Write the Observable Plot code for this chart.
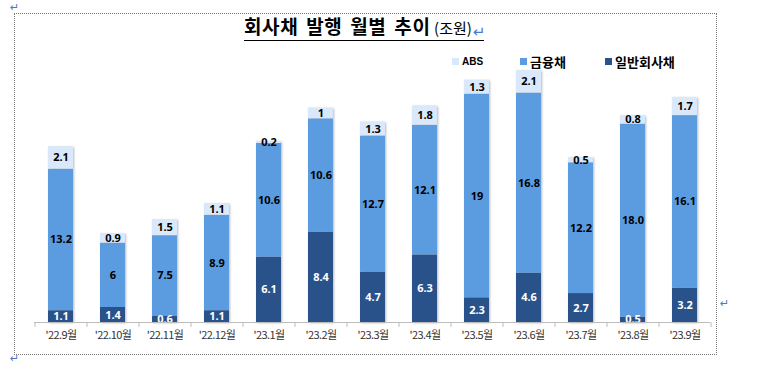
<!DOCTYPE html>
<html>
<head>
<meta charset="utf-8">
<script src="https://cdn.jsdelivr.net/npm/d3@7"></script>
<script src="https://cdn.jsdelivr.net/npm/@observablehq/plot@0.6"></script>
<style>
  body { margin: 0; background: #fff; }
  #wrap { position: relative; width: 760px; height: 367px; overflow: hidden; font-family: "Noto Sans CJK KR", "Noto Sans", sans-serif; }
  #chart { position: absolute; left: 0; top: 0; }
  #border { position: absolute; left: 14px; top: 13px; width: 703px; height: 342px; border: 1px dotted #777; box-sizing: border-box; }
  .ret { position: absolute; color: #4a78c2; font-size: 11px; font-family: "DejaVu Sans", sans-serif; line-height: 11px; }
  #title { position: absolute; left: 244px; top: 14px; white-space: nowrap; border-bottom: 1.6px solid #000; line-height: 24px; color: #000; }
  #title b { font-size: 19px; font-weight: 700; letter-spacing: 0.6px; word-spacing: 3px; }
  #title span { font-size: 15px; font-weight: 400; }
  .lg { position: absolute; top: 52px; height: 18px; display: flex; align-items: center; white-space: nowrap; font-weight: 700; color: #000; }
  .lg i { display: inline-block; width: 7px; height: 7px; margin-right: 3px; }
  g[aria-label^="x-axis"] text { letter-spacing: -0.6px; }
  g[aria-label="bar"] { filter: drop-shadow(1.5px 1px 1px rgba(0,0,0,0.28)); }
</style>
</head>
<body>
<div id="wrap">
  <div id="chart"></div>
  <div id="border"></div>
  <div class="ret" style="left:10px; top:2px;">↵</div>
  <div class="ret" style="left:720px; top:298px;">↵</div>
  <div class="ret" style="left:10px; top:353px;">↵</div>
  <div id="title"><b>회사채 발행 월별 추이</b> <span>(조원)</span><span class="ret" style="position:relative; top:3px; left:1px;">↵</span></div>
  <div id="legend"></div>
</div>
<script>
const months = ["'22.9월","'22.10월","'22.11월","'22.12월","'23.1월","'23.2월","'23.3월","'23.4월","'23.5월","'23.6월","'23.7월","'23.8월","'23.9월"];
const seriesNames = ["일반회사채", "금융채", "ABS"];
const generalBonds = ["1.1","1.4","0.6","1.1","6.1","8.4","4.7","6.3","2.3","4.6","2.7","0.5","3.2"];
const financialBonds = ["13.2","6","7.5","8.9","10.6","10.6","12.7","12.1","19","16.8","12.2","18.0","16.1"];
const absBonds = ["2.1","0.9","1.5","1.1","0.2","1","1.3","1.8","1.3","2.1","0.5","0.8","1.7"];
const seriesColors = ["#29528a", "#5b9ce0", "#d9e8fb"];
const labelColors = ["#ffffff", "#000000", "#000000"];
const legendOrder = ["ABS", "금융채", "일반회사채"];

const rows = [];
months.forEach((m, i) => {
  [generalBonds, financialBonds, absBonds].forEach((arr, s) => {
    rows.push({month: m, series: seriesNames[s], s, value: +arr[i], label: arr[i]});
  });
});

const W = 760, H = 367;
const mL = 34, mR = 50, mT = 54, mB = 45;
const step = (W - mL - mR) / months.length;

const numFont = "'Noto Sans', sans-serif";
const plot = Plot.plot({
  width: W, height: H,
  marginLeft: mL, marginRight: mR, marginTop: mT, marginBottom: mB,
  style: {fontSize: "11px", color: "#333", fontFamily: "'Noto Sans CJK KR', sans-serif", background: "transparent"},
  x: {domain: months, paddingInner: 0.52, paddingOuter: 0.26, label: null, tickSize: 0, tickPadding: 9},
  y: {domain: [0, 25], axis: null},
  marks: [
    Plot.barY(rows, Plot.stackY({x: "month", y: "value", z: "series", fill: d => seriesColors[d.s]})),
    Plot.ruleY([0], {stroke: "#bdbdbd", strokeWidth: 1.2}),
    Plot.ruleX(months, {x: d => d, dx: -step / 2, insetTop: H - mT - mB, insetBottom: -5, stroke: "#bdbdbd"}),
    Plot.ruleX(months.slice(-1), {x: d => d, dx: step / 2, insetTop: H - mT - mB, insetBottom: -5, stroke: "#bdbdbd"}),
    Plot.text(rows, Plot.stackY({x: "month", y: "value", z: "series", text: "label", fill: d => labelColors[d.s], fontWeight: "bold", fontSize: 11, fontFamily: numFont, clip: true}))
  ]
});
document.getElementById("chart").appendChild(plot);

// legend
const legendPos = {"ABS": [452, 10], "금융채": [520, 13], "일반회사채": [605, 13]};
const lg = document.getElementById("legend");
legendOrder.forEach(name => {
  const d = document.createElement("div");
  d.className = "lg";
  d.style.left = legendPos[name][0] + "px";
  d.style.fontSize = legendPos[name][1] + "px";
  if (name === "ABS") d.style.fontFamily = "'Liberation Sans', Arial, sans-serif";
  const sw = document.createElement("i");
  sw.style.background = seriesColors[seriesNames.indexOf(name)];
  d.appendChild(sw);
  d.appendChild(document.createTextNode(name));
  lg.appendChild(d);
});
</script>
</body>
</html>
